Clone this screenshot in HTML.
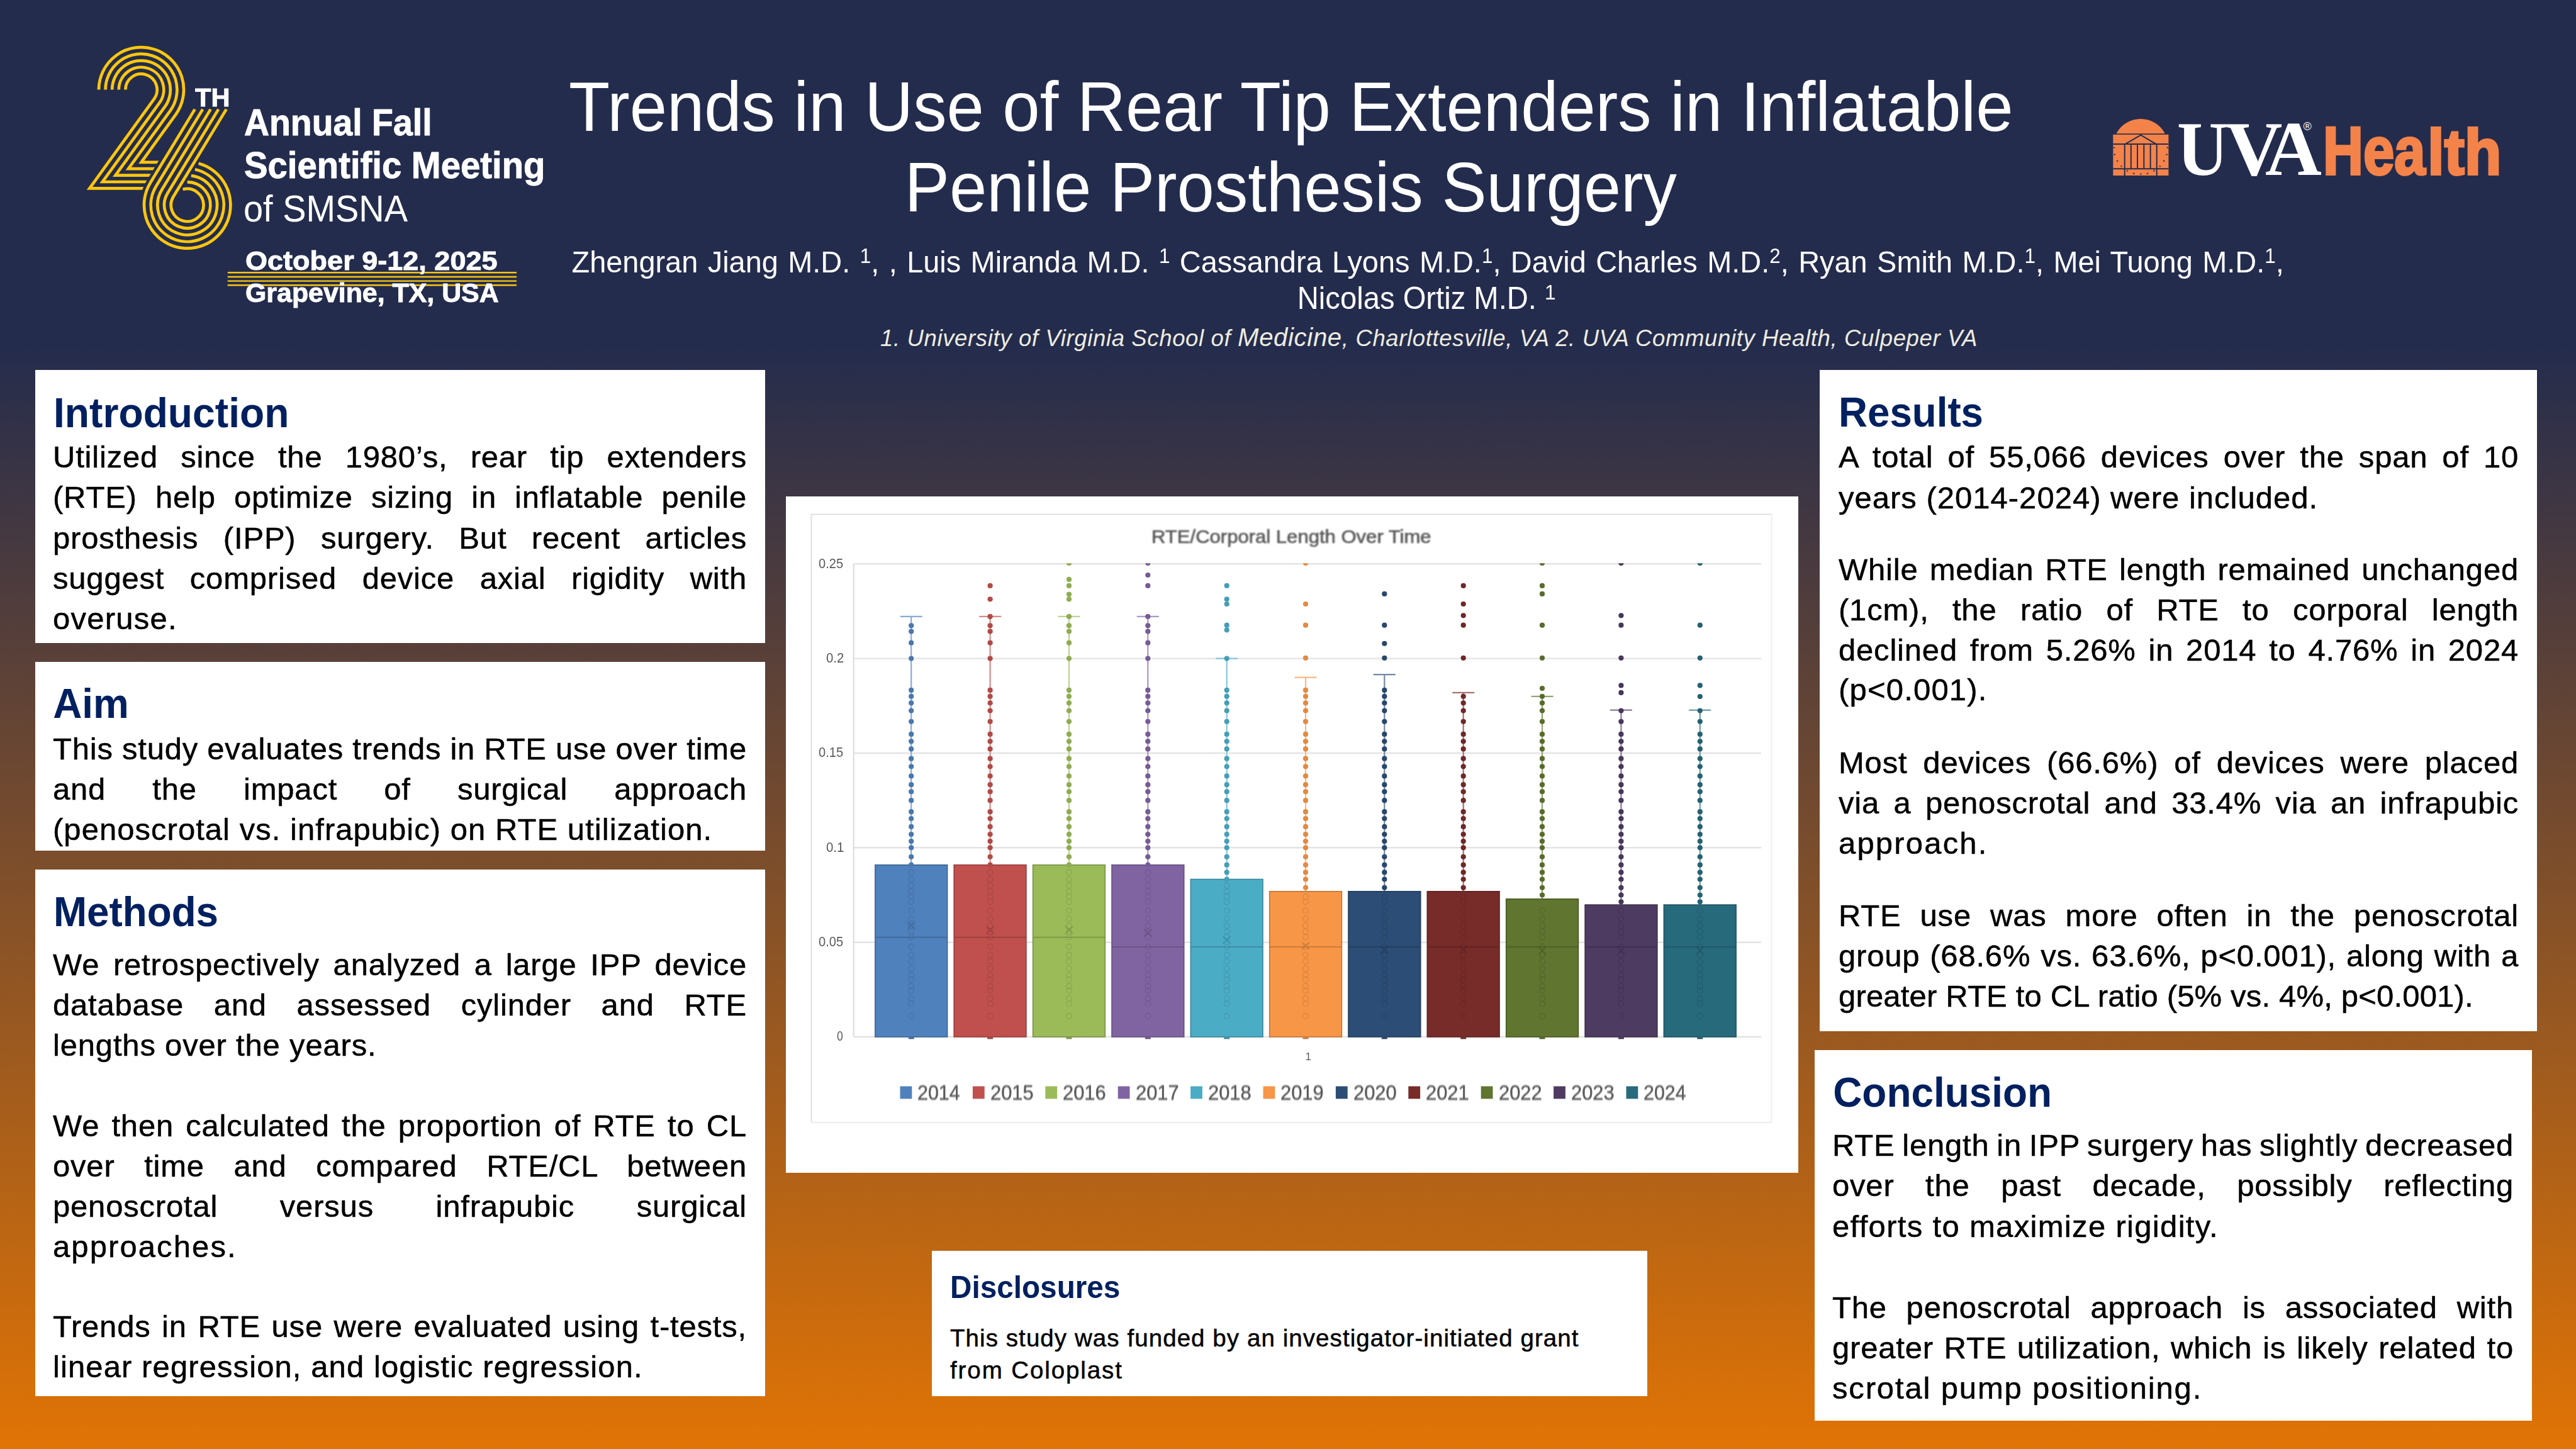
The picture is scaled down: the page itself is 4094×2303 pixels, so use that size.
<!DOCTYPE html>
<html lang="en">
<head>
<meta charset="utf-8">
<title>Trends in Use of Rear Tip Extenders in Inflatable Penile Prosthesis Surgery</title>
<style>
html,body{margin:0;padding:0;}
body{width:4094px;height:2303px;overflow:hidden;background:#242c4d;font-family:"Liberation Sans",sans-serif;}
#poster{position:relative;width:4094px;height:2303px;overflow:hidden;
  background:linear-gradient(to bottom,#242c4d 0px,#242c4d 550px,#e17405 2303px);}
.t{position:absolute;white-space:pre;line-height:1;margin:0;padding:0;}
.box{position:absolute;background:#fff;}
sup.s{font-size:67%;line-height:0;position:relative;top:-0.45em;vertical-align:baseline;}
svg{position:absolute;overflow:visible;}
</style>
</head>
<body>
<div id="poster">

<svg width="4094" height="600" viewBox="0 0 4094 600" style="left:0;top:0" fill="none" stroke="#fdc70c" stroke-width="4.7" stroke-linecap="butt" stroke-linejoin="miter" stroke-miterlimit="10">
<path d="M157.00 142.60A67.50 67.50 0 1 1 279.25 182.08L224.64 257.80L258.69 257.80"/>
<path d="M167.60 142.60A56.90 56.90 0 1 1 270.65 175.88L204.07 268.20L252.39 268.20"/>
<path d="M178.20 142.60A46.30 46.30 0 1 1 262.05 169.68L183.50 278.60L246.09 278.60"/>
<path d="M188.80 142.60A35.70 35.70 0 1 1 253.45 163.48L162.93 289.00L239.79 289.00"/>
<path d="M199.40 142.60A25.10 25.10 0 1 1 244.86 157.28L142.36 299.40L234.36 299.40"/>
<path d="M309.68 173.60L238.94 290.41A68.70 68.70 0 1 0 315.65 259.69" stroke="#242c4d" stroke-width="13.5"/>
<path d="M309.68 173.60L238.94 290.41A68.70 68.70 0 1 0 315.65 259.69"/>
<path d="M322.19 173.60L248.09 295.95A58.00 58.00 0 1 0 309.84 269.28"/>
<path d="M334.70 173.60L257.24 301.50A47.30 47.30 0 1 0 303.89 279.11"/>
<path d="M347.21 173.60L266.39 307.04A36.60 36.60 0 1 0 297.65 289.40"/>
<path d="M359.72 173.60L275.55 312.58A25.90 25.90 0 1 0 290.57 301.10"/>
<path d="M361.8 433.3H821" stroke-width="2.4"/>
<path d="M361.8 440.0H821" stroke-width="2.4"/>
<path d="M361.8 446.6H821" stroke-width="2.4"/>
<path d="M361.8 453.3H821" stroke-width="2.4"/>
</svg>

<svg width="4094" height="600" viewBox="0 0 4094 600" style="left:0;top:0">
<path d="M3363.4 212.3A43.7 43.7 0 0 1 3440.8 212.3Z" fill="#f4834a"/>
<rect x="3358.3" y="213.9" width="88.1" height="65.1" fill="#f4834a"/>
<g fill="none" stroke="#242c4d" stroke-width="2.0" stroke-linejoin="miter">
<path d="M3377.3 229.1L3402.3 214.7L3426.9 229.1"/>
<path d="M3358.3 229.1H3446.3M3358.3 268.3H3446.3"/>
<path d="M3376.7 229.1V279.0M3427.7 229.1V279.0"/>
<path d="M3386.8 230.2V267.5"/>
<path d="M3397.0 230.2V267.5"/>
<path d="M3407.3 230.2V267.5"/>
<path d="M3417.6 230.2V267.5"/>
</g>
<polygon points="3359.84,232.62 3360.31,233.88 3361.65,233.94 3360.60,234.77 3360.96,236.06 3359.84,235.32 3358.72,236.06 3359.08,234.77 3358.03,233.94 3359.37,233.88" fill="#242c4d"/>
<polygon points="3360.79,243.73 3361.26,244.99 3362.60,245.05 3361.55,245.88 3361.91,247.17 3360.79,246.43 3359.68,247.17 3360.03,245.88 3358.99,245.05 3360.32,244.99" fill="#242c4d"/>
<polygon points="3365.00,254.05 3365.47,255.31 3366.81,255.37 3365.76,256.20 3366.12,257.49 3365.00,256.75 3363.88,257.49 3364.24,256.20 3363.19,255.37 3364.53,255.31" fill="#242c4d"/>
<polygon points="3371.35,262.39 3371.82,263.64 3373.16,263.70 3372.11,264.53 3372.47,265.82 3371.35,265.08 3370.23,265.82 3370.59,264.53 3369.54,263.70 3370.88,263.64" fill="#242c4d"/>
<polygon points="3444.60,232.62 3445.07,233.88 3446.41,233.94 3445.36,234.77 3445.72,236.06 3444.60,235.32 3443.49,236.06 3443.84,234.77 3442.80,233.94 3444.13,233.88" fill="#242c4d"/>
<polygon points="3443.57,243.73 3444.04,244.99 3445.38,245.05 3444.33,245.88 3444.69,247.17 3443.57,246.43 3442.45,247.17 3442.81,245.88 3441.76,245.05 3443.10,244.99" fill="#242c4d"/>
<polygon points="3439.21,254.05 3439.68,255.31 3441.01,255.37 3439.97,256.20 3440.32,257.49 3439.21,256.75 3438.09,257.49 3438.45,256.20 3437.40,255.37 3438.74,255.31" fill="#242c4d"/>
<polygon points="3432.86,262.39 3433.33,263.64 3434.66,263.70 3433.62,264.53 3433.97,265.82 3432.86,265.08 3431.74,265.82 3432.10,264.53 3431.05,263.70 3432.39,263.64" fill="#242c4d"/>
<polygon points="3380.87,269.53 3381.34,270.78 3382.68,270.84 3381.63,271.68 3381.99,272.97 3380.87,272.23 3379.76,272.97 3380.11,271.68 3379.07,270.84 3380.40,270.78" fill="#242c4d"/>
<polygon points="3391.19,273.73 3391.66,274.99 3393.00,275.05 3391.95,275.88 3392.31,277.17 3391.19,276.43 3390.07,277.17 3390.43,275.88 3389.38,275.05 3390.72,274.99" fill="#242c4d"/>
<polygon points="3402.30,274.69 3402.77,275.94 3404.11,276.00 3403.06,276.83 3403.42,278.12 3402.30,277.39 3401.18,278.12 3401.54,276.83 3400.49,276.00 3401.83,275.94" fill="#242c4d"/>
<polygon points="3413.02,273.73 3413.48,274.99 3414.82,275.05 3413.77,275.88 3414.13,277.17 3413.02,276.43 3411.90,277.17 3412.26,275.88 3411.21,275.05 3412.55,274.99" fill="#242c4d"/>
<polygon points="3423.33,269.53 3423.80,270.78 3425.14,270.84 3424.09,271.68 3424.45,272.97 3423.33,272.23 3422.22,272.97 3422.57,271.68 3421.53,270.84 3422.86,270.78" fill="#242c4d"/>
</svg>


<div class="box" style="left:56px;top:588px;width:1160px;height:434px;"></div>
<div class="box" style="left:56px;top:1052px;width:1160px;height:300px;"></div>
<div class="box" style="left:56px;top:1382px;width:1160px;height:837px;"></div>
<div class="box" style="left:1249px;top:789px;width:1609px;height:1075px;"></div>
<div class="box" style="left:1481px;top:1988px;width:1137px;height:231px;"></div>
<div class="box" style="left:2892px;top:588px;width:1140px;height:1051px;"></div>
<div class="box" style="left:2884px;top:1669px;width:1140px;height:589px;"></div>

<svg width="4094" height="2303" viewBox="0 0 4094 2303" style="left:0;top:0;filter:blur(0.7px)">
<path d="M1289.5 1784V817.5H2815.6" fill="none" stroke="#dfdfdf" stroke-width="2"/>
<path d="M2815.6 817.5V1784" fill="none" stroke="#efefef" stroke-width="2"/>
<clipPath id="plotclip"><rect x="1300" y="895.3" width="1520" height="800"/></clipPath>
<path d="M1289.5 1784H2815.6" fill="none" stroke="#ececec" stroke-width="2"/>
<path d="M1356.7 1648.0H2799" stroke="#e3e3e3" stroke-width="2.4" fill="none"/>
<path d="M1356.7 1497.7H2799" stroke="#e3e3e3" stroke-width="2.4" fill="none"/>
<path d="M1356.7 1347.3H2799" stroke="#e3e3e3" stroke-width="2.4" fill="none"/>
<path d="M1356.7 1197.0H2799" stroke="#e3e3e3" stroke-width="2.4" fill="none"/>
<path d="M1356.7 1046.6H2799" stroke="#e3e3e3" stroke-width="2.4" fill="none"/>
<path d="M1356.7 896.3H2799" stroke="#e3e3e3" stroke-width="2.4" fill="none"/>
<path d="M1356.7 896.3V1648.0" stroke="#dadada" stroke-width="2" fill="none"/>
<path d="M1448.2 1374.7V979.9M1430.8 979.9h35" stroke="#89abd3" stroke-width="2.2" fill="none"/>
<rect x="1390.9" y="1374.7" width="114.7" height="273.3" fill="#4f81bd" stroke="#3e6593" stroke-width="1.6"/>
<path d="M1390.9 1489.8h114.7" stroke="#3e6593" stroke-width="2" fill="none" opacity="0.8"/>
<path d="M1443.8 1650.2h9" stroke="#3e6593" stroke-width="2.4" fill="none"/>
<g fill="none" stroke="#3e6593" stroke-width="1.2" opacity="0.55"><circle cx="1448.2" cy="1614.9" r="4.3"/><circle cx="1448.2" cy="1595.4" r="4.3"/><circle cx="1448.2" cy="1587.0" r="4.3"/><circle cx="1448.2" cy="1574.6" r="4.3"/><circle cx="1448.2" cy="1567.4" r="4.3"/><circle cx="1448.2" cy="1556.9" r="4.3"/><circle cx="1448.2" cy="1549.7" r="4.3"/><circle cx="1448.2" cy="1539.5" r="4.3"/><circle cx="1448.2" cy="1528.0" r="4.3"/><circle cx="1448.2" cy="1517.5" r="4.3"/><circle cx="1448.2" cy="1504.6" r="4.3"/><circle cx="1448.2" cy="1489.5" r="4.3"/><circle cx="1448.2" cy="1480.8" r="4.3"/><circle cx="1448.2" cy="1471.2" r="4.3"/><circle cx="1448.2" cy="1460.1" r="4.3"/><circle cx="1448.2" cy="1447.4" r="4.3"/><circle cx="1448.2" cy="1433.3" r="4.3"/><circle cx="1448.2" cy="1425.2" r="4.3"/><circle cx="1448.2" cy="1416.8" r="4.3"/><circle cx="1448.2" cy="1407.5" r="4.3"/><circle cx="1448.2" cy="1397.5" r="4.3"/><circle cx="1448.2" cy="1386.4" r="4.3"/></g>
<path d="M1442.2 1464.9l12 12M1454.2 1464.9l-12 12" stroke="#3e6593" stroke-width="1.6" fill="none" opacity="0.8"/>
<g fill="#4977ae" clip-path="url(#plotclip)"><circle cx="1448.2" cy="1374.7" r="4.1"/><circle cx="1448.2" cy="1361.8" r="4.1"/><circle cx="1448.2" cy="1347.3" r="4.1"/><circle cx="1448.2" cy="1337.1" r="4.1"/><circle cx="1448.2" cy="1326.0" r="4.1"/><circle cx="1448.2" cy="1313.9" r="4.1"/><circle cx="1448.2" cy="1301.0" r="4.1"/><circle cx="1448.2" cy="1290.2" r="4.1"/><circle cx="1448.2" cy="1272.2" r="4.1"/><circle cx="1448.2" cy="1258.3" r="4.1"/><circle cx="1448.2" cy="1247.2" r="4.1"/><circle cx="1448.2" cy="1233.4" r="4.1"/><circle cx="1448.2" cy="1218.3" r="4.1"/><circle cx="1448.2" cy="1205.7" r="4.1"/><circle cx="1448.2" cy="1190.4" r="4.1"/><circle cx="1448.2" cy="1178.3" r="4.1"/><circle cx="1448.2" cy="1166.9" r="4.1"/><circle cx="1448.2" cy="1146.8" r="4.1"/><circle cx="1448.2" cy="1129.6" r="4.1"/><circle cx="1448.2" cy="1117.3" r="4.1"/><circle cx="1448.2" cy="1106.8" r="4.1"/><circle cx="1448.2" cy="1096.9" r="4.1"/><circle cx="1448.2" cy="1046.6" r="4.1"/><circle cx="1448.2" cy="1021.7" r="4.1"/><circle cx="1448.2" cy="1003.6" r="4.1"/><circle cx="1448.2" cy="994.3" r="4.1"/></g>
<path d="M1573.6 1374.7V979.9M1556.1 979.9h35" stroke="#d58a88" stroke-width="2.2" fill="none"/>
<rect x="1516.2" y="1374.7" width="114.7" height="273.3" fill="#c0504d" stroke="#963e3c" stroke-width="1.6"/>
<path d="M1516.2 1489.8h114.7" stroke="#963e3c" stroke-width="2" fill="none" opacity="0.8"/>
<path d="M1569.1 1650.2h9" stroke="#963e3c" stroke-width="2.4" fill="none"/>
<g fill="none" stroke="#963e3c" stroke-width="1.2" opacity="0.55"><circle cx="1573.6" cy="1614.9" r="4.3"/><circle cx="1573.6" cy="1595.4" r="4.3"/><circle cx="1573.6" cy="1587.0" r="4.3"/><circle cx="1573.6" cy="1574.6" r="4.3"/><circle cx="1573.6" cy="1567.4" r="4.3"/><circle cx="1573.6" cy="1556.9" r="4.3"/><circle cx="1573.6" cy="1549.7" r="4.3"/><circle cx="1573.6" cy="1539.5" r="4.3"/><circle cx="1573.6" cy="1528.0" r="4.3"/><circle cx="1573.6" cy="1517.5" r="4.3"/><circle cx="1573.6" cy="1504.6" r="4.3"/><circle cx="1573.6" cy="1489.5" r="4.3"/><circle cx="1573.6" cy="1480.8" r="4.3"/><circle cx="1573.6" cy="1471.2" r="4.3"/><circle cx="1573.6" cy="1460.1" r="4.3"/><circle cx="1573.6" cy="1447.4" r="4.3"/><circle cx="1573.6" cy="1433.3" r="4.3"/><circle cx="1573.6" cy="1425.2" r="4.3"/><circle cx="1573.6" cy="1416.8" r="4.3"/><circle cx="1573.6" cy="1407.5" r="4.3"/><circle cx="1573.6" cy="1397.5" r="4.3"/><circle cx="1573.6" cy="1386.4" r="4.3"/></g>
<path d="M1567.6 1472.4l12 12M1579.6 1472.4l-12 12" stroke="#963e3c" stroke-width="1.6" fill="none" opacity="0.8"/>
<g fill="#b14a47" clip-path="url(#plotclip)"><circle cx="1573.6" cy="1374.7" r="4.1"/><circle cx="1573.6" cy="1361.8" r="4.1"/><circle cx="1573.6" cy="1347.3" r="4.1"/><circle cx="1573.6" cy="1337.1" r="4.1"/><circle cx="1573.6" cy="1326.0" r="4.1"/><circle cx="1573.6" cy="1313.9" r="4.1"/><circle cx="1573.6" cy="1301.0" r="4.1"/><circle cx="1573.6" cy="1290.2" r="4.1"/><circle cx="1573.6" cy="1272.2" r="4.1"/><circle cx="1573.6" cy="1258.3" r="4.1"/><circle cx="1573.6" cy="1247.2" r="4.1"/><circle cx="1573.6" cy="1233.4" r="4.1"/><circle cx="1573.6" cy="1218.3" r="4.1"/><circle cx="1573.6" cy="1205.7" r="4.1"/><circle cx="1573.6" cy="1190.4" r="4.1"/><circle cx="1573.6" cy="1178.3" r="4.1"/><circle cx="1573.6" cy="1166.9" r="4.1"/><circle cx="1573.6" cy="1146.8" r="4.1"/><circle cx="1573.6" cy="1129.6" r="4.1"/><circle cx="1573.6" cy="1117.3" r="4.1"/><circle cx="1573.6" cy="1106.8" r="4.1"/><circle cx="1573.6" cy="1096.9" r="4.1"/><circle cx="1573.6" cy="1046.6" r="4.1"/><circle cx="1573.6" cy="1021.7" r="4.1"/><circle cx="1573.6" cy="1003.6" r="4.1"/><circle cx="1573.6" cy="994.3" r="4.1"/><circle cx="1573.6" cy="979.9" r="4.1"/><circle cx="1573.6" cy="930.9" r="4.1"/><circle cx="1573.6" cy="952.3" r="4.1"/></g>
<path d="M1699.0 1374.7V979.9M1681.5 979.9h35" stroke="#bcd190" stroke-width="2.2" fill="none"/>
<rect x="1641.6" y="1374.7" width="114.7" height="273.3" fill="#9bbb59" stroke="#799245" stroke-width="1.6"/>
<path d="M1641.6 1489.8h114.7" stroke="#799245" stroke-width="2" fill="none" opacity="0.8"/>
<path d="M1694.5 1650.2h9" stroke="#799245" stroke-width="2.4" fill="none"/>
<g fill="none" stroke="#799245" stroke-width="1.2" opacity="0.55"><circle cx="1699.0" cy="1614.9" r="4.3"/><circle cx="1699.0" cy="1595.4" r="4.3"/><circle cx="1699.0" cy="1587.0" r="4.3"/><circle cx="1699.0" cy="1574.6" r="4.3"/><circle cx="1699.0" cy="1567.4" r="4.3"/><circle cx="1699.0" cy="1556.9" r="4.3"/><circle cx="1699.0" cy="1549.7" r="4.3"/><circle cx="1699.0" cy="1539.5" r="4.3"/><circle cx="1699.0" cy="1528.0" r="4.3"/><circle cx="1699.0" cy="1517.5" r="4.3"/><circle cx="1699.0" cy="1504.6" r="4.3"/><circle cx="1699.0" cy="1489.5" r="4.3"/><circle cx="1699.0" cy="1480.8" r="4.3"/><circle cx="1699.0" cy="1471.2" r="4.3"/><circle cx="1699.0" cy="1460.1" r="4.3"/><circle cx="1699.0" cy="1447.4" r="4.3"/><circle cx="1699.0" cy="1433.3" r="4.3"/><circle cx="1699.0" cy="1425.2" r="4.3"/><circle cx="1699.0" cy="1416.8" r="4.3"/><circle cx="1699.0" cy="1407.5" r="4.3"/><circle cx="1699.0" cy="1397.5" r="4.3"/><circle cx="1699.0" cy="1386.4" r="4.3"/></g>
<path d="M1693.0 1472.4l12 12M1705.0 1472.4l-12 12" stroke="#799245" stroke-width="1.6" fill="none" opacity="0.8"/>
<g fill="#8fac52" clip-path="url(#plotclip)"><circle cx="1699.0" cy="1374.7" r="4.1"/><circle cx="1699.0" cy="1361.8" r="4.1"/><circle cx="1699.0" cy="1347.3" r="4.1"/><circle cx="1699.0" cy="1337.1" r="4.1"/><circle cx="1699.0" cy="1326.0" r="4.1"/><circle cx="1699.0" cy="1313.9" r="4.1"/><circle cx="1699.0" cy="1301.0" r="4.1"/><circle cx="1699.0" cy="1290.2" r="4.1"/><circle cx="1699.0" cy="1272.2" r="4.1"/><circle cx="1699.0" cy="1258.3" r="4.1"/><circle cx="1699.0" cy="1247.2" r="4.1"/><circle cx="1699.0" cy="1233.4" r="4.1"/><circle cx="1699.0" cy="1218.3" r="4.1"/><circle cx="1699.0" cy="1205.7" r="4.1"/><circle cx="1699.0" cy="1190.4" r="4.1"/><circle cx="1699.0" cy="1178.3" r="4.1"/><circle cx="1699.0" cy="1166.9" r="4.1"/><circle cx="1699.0" cy="1146.8" r="4.1"/><circle cx="1699.0" cy="1129.6" r="4.1"/><circle cx="1699.0" cy="1117.3" r="4.1"/><circle cx="1699.0" cy="1106.8" r="4.1"/><circle cx="1699.0" cy="1096.9" r="4.1"/><circle cx="1699.0" cy="1046.6" r="4.1"/><circle cx="1699.0" cy="1021.7" r="4.1"/><circle cx="1699.0" cy="1003.6" r="4.1"/><circle cx="1699.0" cy="994.3" r="4.1"/><circle cx="1699.0" cy="979.9" r="4.1"/><circle cx="1699.0" cy="894.9" r="4.1"/><circle cx="1699.0" cy="920.9" r="4.1"/><circle cx="1699.0" cy="930.9" r="4.1"/><circle cx="1699.0" cy="944.6" r="4.1"/><circle cx="1699.0" cy="952.3" r="4.1"/></g>
<path d="M1824.3 1374.7V979.9M1806.8 979.9h35" stroke="#aa97c1" stroke-width="2.2" fill="none"/>
<rect x="1767.0" y="1374.7" width="114.7" height="273.3" fill="#8064a2" stroke="#644e7e" stroke-width="1.6"/>
<path d="M1767.0 1504.9h114.7" stroke="#644e7e" stroke-width="2" fill="none" opacity="0.8"/>
<path d="M1819.8 1650.2h9" stroke="#644e7e" stroke-width="2.4" fill="none"/>
<g fill="none" stroke="#644e7e" stroke-width="1.2" opacity="0.55"><circle cx="1824.3" cy="1614.9" r="4.3"/><circle cx="1824.3" cy="1595.4" r="4.3"/><circle cx="1824.3" cy="1587.0" r="4.3"/><circle cx="1824.3" cy="1574.6" r="4.3"/><circle cx="1824.3" cy="1567.4" r="4.3"/><circle cx="1824.3" cy="1556.9" r="4.3"/><circle cx="1824.3" cy="1549.7" r="4.3"/><circle cx="1824.3" cy="1539.5" r="4.3"/><circle cx="1824.3" cy="1528.0" r="4.3"/><circle cx="1824.3" cy="1517.5" r="4.3"/><circle cx="1824.3" cy="1504.6" r="4.3"/><circle cx="1824.3" cy="1489.5" r="4.3"/><circle cx="1824.3" cy="1480.8" r="4.3"/><circle cx="1824.3" cy="1471.2" r="4.3"/><circle cx="1824.3" cy="1460.1" r="4.3"/><circle cx="1824.3" cy="1447.4" r="4.3"/><circle cx="1824.3" cy="1433.3" r="4.3"/><circle cx="1824.3" cy="1425.2" r="4.3"/><circle cx="1824.3" cy="1416.8" r="4.3"/><circle cx="1824.3" cy="1407.5" r="4.3"/><circle cx="1824.3" cy="1397.5" r="4.3"/><circle cx="1824.3" cy="1386.4" r="4.3"/></g>
<path d="M1818.3 1476.6l12 12M1830.3 1476.6l-12 12" stroke="#644e7e" stroke-width="1.6" fill="none" opacity="0.8"/>
<g fill="#765c95" clip-path="url(#plotclip)"><circle cx="1824.3" cy="1374.7" r="4.1"/><circle cx="1824.3" cy="1361.8" r="4.1"/><circle cx="1824.3" cy="1347.3" r="4.1"/><circle cx="1824.3" cy="1337.1" r="4.1"/><circle cx="1824.3" cy="1326.0" r="4.1"/><circle cx="1824.3" cy="1313.9" r="4.1"/><circle cx="1824.3" cy="1301.0" r="4.1"/><circle cx="1824.3" cy="1290.2" r="4.1"/><circle cx="1824.3" cy="1272.2" r="4.1"/><circle cx="1824.3" cy="1258.3" r="4.1"/><circle cx="1824.3" cy="1247.2" r="4.1"/><circle cx="1824.3" cy="1233.4" r="4.1"/><circle cx="1824.3" cy="1218.3" r="4.1"/><circle cx="1824.3" cy="1205.7" r="4.1"/><circle cx="1824.3" cy="1190.4" r="4.1"/><circle cx="1824.3" cy="1178.3" r="4.1"/><circle cx="1824.3" cy="1166.9" r="4.1"/><circle cx="1824.3" cy="1146.8" r="4.1"/><circle cx="1824.3" cy="1129.6" r="4.1"/><circle cx="1824.3" cy="1117.3" r="4.1"/><circle cx="1824.3" cy="1106.8" r="4.1"/><circle cx="1824.3" cy="1096.9" r="4.1"/><circle cx="1824.3" cy="1046.6" r="4.1"/><circle cx="1824.3" cy="1021.7" r="4.1"/><circle cx="1824.3" cy="1003.6" r="4.1"/><circle cx="1824.3" cy="994.3" r="4.1"/><circle cx="1824.3" cy="979.9" r="4.1"/><circle cx="1824.3" cy="894.9" r="4.1"/><circle cx="1824.3" cy="914.0" r="4.1"/><circle cx="1824.3" cy="930.9" r="4.1"/></g>
<path d="M1949.7 1397.5V1046.6M1932.2 1046.6h35" stroke="#86c7d9" stroke-width="2.2" fill="none"/>
<rect x="1892.3" y="1397.5" width="114.7" height="250.5" fill="#4bacc6" stroke="#3a869a" stroke-width="1.6"/>
<path d="M1892.3 1504.9h114.7" stroke="#3a869a" stroke-width="2" fill="none" opacity="0.8"/>
<path d="M1945.2 1650.2h9" stroke="#3a869a" stroke-width="2.4" fill="none"/>
<g fill="none" stroke="#3a869a" stroke-width="1.2" opacity="0.55"><circle cx="1949.7" cy="1614.9" r="4.3"/><circle cx="1949.7" cy="1595.4" r="4.3"/><circle cx="1949.7" cy="1587.0" r="4.3"/><circle cx="1949.7" cy="1574.6" r="4.3"/><circle cx="1949.7" cy="1567.4" r="4.3"/><circle cx="1949.7" cy="1556.9" r="4.3"/><circle cx="1949.7" cy="1549.7" r="4.3"/><circle cx="1949.7" cy="1539.5" r="4.3"/><circle cx="1949.7" cy="1528.0" r="4.3"/><circle cx="1949.7" cy="1517.5" r="4.3"/><circle cx="1949.7" cy="1504.6" r="4.3"/><circle cx="1949.7" cy="1489.5" r="4.3"/><circle cx="1949.7" cy="1480.8" r="4.3"/><circle cx="1949.7" cy="1471.2" r="4.3"/><circle cx="1949.7" cy="1460.1" r="4.3"/><circle cx="1949.7" cy="1447.4" r="4.3"/><circle cx="1949.7" cy="1433.3" r="4.3"/><circle cx="1949.7" cy="1425.2" r="4.3"/><circle cx="1949.7" cy="1416.8" r="4.3"/><circle cx="1949.7" cy="1407.5" r="4.3"/></g>
<path d="M1943.7 1488.1l12 12M1955.7 1488.1l-12 12" stroke="#3a869a" stroke-width="1.6" fill="none" opacity="0.8"/>
<g fill="#459eb6" clip-path="url(#plotclip)"><circle cx="1949.7" cy="1397.5" r="4.1"/><circle cx="1949.7" cy="1386.4" r="4.1"/><circle cx="1949.7" cy="1374.7" r="4.1"/><circle cx="1949.7" cy="1361.8" r="4.1"/><circle cx="1949.7" cy="1347.3" r="4.1"/><circle cx="1949.7" cy="1337.1" r="4.1"/><circle cx="1949.7" cy="1326.0" r="4.1"/><circle cx="1949.7" cy="1313.9" r="4.1"/><circle cx="1949.7" cy="1301.0" r="4.1"/><circle cx="1949.7" cy="1290.2" r="4.1"/><circle cx="1949.7" cy="1272.2" r="4.1"/><circle cx="1949.7" cy="1258.3" r="4.1"/><circle cx="1949.7" cy="1247.2" r="4.1"/><circle cx="1949.7" cy="1233.4" r="4.1"/><circle cx="1949.7" cy="1218.3" r="4.1"/><circle cx="1949.7" cy="1205.7" r="4.1"/><circle cx="1949.7" cy="1190.4" r="4.1"/><circle cx="1949.7" cy="1178.3" r="4.1"/><circle cx="1949.7" cy="1166.9" r="4.1"/><circle cx="1949.7" cy="1146.8" r="4.1"/><circle cx="1949.7" cy="1129.6" r="4.1"/><circle cx="1949.7" cy="1117.3" r="4.1"/><circle cx="1949.7" cy="1106.8" r="4.1"/><circle cx="1949.7" cy="1096.9" r="4.1"/><circle cx="1949.7" cy="1046.6" r="4.1"/><circle cx="1949.7" cy="930.9" r="4.1"/><circle cx="1949.7" cy="952.3" r="4.1"/><circle cx="1949.7" cy="960.0" r="4.1"/><circle cx="1949.7" cy="993.7" r="4.1"/><circle cx="1949.7" cy="1001.3" r="4.1"/></g>
<path d="M2075.0 1416.8V1076.7M2057.5 1076.7h35" stroke="#fab983" stroke-width="2.2" fill="none"/>
<rect x="2017.7" y="1416.8" width="114.7" height="231.2" fill="#f79646" stroke="#c17537" stroke-width="1.6"/>
<path d="M2017.7 1504.9h114.7" stroke="#c17537" stroke-width="2" fill="none" opacity="0.8"/>
<path d="M2070.5 1650.2h9" stroke="#c17537" stroke-width="2.4" fill="none"/>
<g fill="none" stroke="#c17537" stroke-width="1.2" opacity="0.55"><circle cx="2075.0" cy="1614.9" r="4.3"/><circle cx="2075.0" cy="1595.4" r="4.3"/><circle cx="2075.0" cy="1587.0" r="4.3"/><circle cx="2075.0" cy="1574.6" r="4.3"/><circle cx="2075.0" cy="1567.4" r="4.3"/><circle cx="2075.0" cy="1556.9" r="4.3"/><circle cx="2075.0" cy="1549.7" r="4.3"/><circle cx="2075.0" cy="1539.5" r="4.3"/><circle cx="2075.0" cy="1528.0" r="4.3"/><circle cx="2075.0" cy="1517.5" r="4.3"/><circle cx="2075.0" cy="1504.6" r="4.3"/><circle cx="2075.0" cy="1489.5" r="4.3"/><circle cx="2075.0" cy="1480.8" r="4.3"/><circle cx="2075.0" cy="1471.2" r="4.3"/><circle cx="2075.0" cy="1460.1" r="4.3"/><circle cx="2075.0" cy="1447.4" r="4.3"/><circle cx="2075.0" cy="1433.3" r="4.3"/><circle cx="2075.0" cy="1425.2" r="4.3"/></g>
<path d="M2069.0 1497.4l12 12M2081.0 1497.4l-12 12" stroke="#c17537" stroke-width="1.6" fill="none" opacity="0.8"/>
<g fill="#e38a40" clip-path="url(#plotclip)"><circle cx="2075.0" cy="1410.8" r="4.1"/><circle cx="2075.0" cy="1397.5" r="4.1"/><circle cx="2075.0" cy="1386.4" r="4.1"/><circle cx="2075.0" cy="1374.7" r="4.1"/><circle cx="2075.0" cy="1361.8" r="4.1"/><circle cx="2075.0" cy="1347.3" r="4.1"/><circle cx="2075.0" cy="1337.1" r="4.1"/><circle cx="2075.0" cy="1326.0" r="4.1"/><circle cx="2075.0" cy="1313.9" r="4.1"/><circle cx="2075.0" cy="1301.0" r="4.1"/><circle cx="2075.0" cy="1290.2" r="4.1"/><circle cx="2075.0" cy="1272.2" r="4.1"/><circle cx="2075.0" cy="1258.3" r="4.1"/><circle cx="2075.0" cy="1247.2" r="4.1"/><circle cx="2075.0" cy="1233.4" r="4.1"/><circle cx="2075.0" cy="1218.3" r="4.1"/><circle cx="2075.0" cy="1205.7" r="4.1"/><circle cx="2075.0" cy="1190.4" r="4.1"/><circle cx="2075.0" cy="1178.3" r="4.1"/><circle cx="2075.0" cy="1166.9" r="4.1"/><circle cx="2075.0" cy="1146.8" r="4.1"/><circle cx="2075.0" cy="1129.6" r="4.1"/><circle cx="2075.0" cy="1117.3" r="4.1"/><circle cx="2075.0" cy="1106.8" r="4.1"/><circle cx="2075.0" cy="1096.9" r="4.1"/><circle cx="2075.0" cy="894.9" r="4.1"/><circle cx="2075.0" cy="960.0" r="4.1"/><circle cx="2075.0" cy="993.7" r="4.1"/><circle cx="2075.0" cy="1045.8" r="4.1"/></g>
<path d="M2200.3 1416.8V1072.2M2182.8 1072.2h35" stroke="#7288a3" stroke-width="2.2" fill="none"/>
<rect x="2143.0" y="1416.8" width="114.7" height="231.2" fill="#2c4d75" stroke="#223c5b" stroke-width="1.6"/>
<path d="M2143.0 1504.9h114.7" stroke="#223c5b" stroke-width="2" fill="none" opacity="0.8"/>
<path d="M2195.8 1650.2h9" stroke="#223c5b" stroke-width="2.4" fill="none"/>
<g fill="none" stroke="#223c5b" stroke-width="1.2" opacity="0.55"><circle cx="2200.3" cy="1614.9" r="4.3"/><circle cx="2200.3" cy="1595.4" r="4.3"/><circle cx="2200.3" cy="1587.0" r="4.3"/><circle cx="2200.3" cy="1574.6" r="4.3"/><circle cx="2200.3" cy="1567.4" r="4.3"/><circle cx="2200.3" cy="1556.9" r="4.3"/><circle cx="2200.3" cy="1549.7" r="4.3"/><circle cx="2200.3" cy="1539.5" r="4.3"/><circle cx="2200.3" cy="1528.0" r="4.3"/><circle cx="2200.3" cy="1517.5" r="4.3"/><circle cx="2200.3" cy="1504.6" r="4.3"/><circle cx="2200.3" cy="1489.5" r="4.3"/><circle cx="2200.3" cy="1480.8" r="4.3"/><circle cx="2200.3" cy="1471.2" r="4.3"/><circle cx="2200.3" cy="1460.1" r="4.3"/><circle cx="2200.3" cy="1447.4" r="4.3"/><circle cx="2200.3" cy="1433.3" r="4.3"/><circle cx="2200.3" cy="1425.2" r="4.3"/></g>
<path d="M2194.3 1503.4l12 12M2206.3 1503.4l-12 12" stroke="#223c5b" stroke-width="1.6" fill="none" opacity="0.8"/>
<g fill="#28476c" clip-path="url(#plotclip)"><circle cx="2200.3" cy="1410.8" r="4.1"/><circle cx="2200.3" cy="1397.5" r="4.1"/><circle cx="2200.3" cy="1386.4" r="4.1"/><circle cx="2200.3" cy="1374.7" r="4.1"/><circle cx="2200.3" cy="1361.8" r="4.1"/><circle cx="2200.3" cy="1347.3" r="4.1"/><circle cx="2200.3" cy="1337.1" r="4.1"/><circle cx="2200.3" cy="1326.0" r="4.1"/><circle cx="2200.3" cy="1313.9" r="4.1"/><circle cx="2200.3" cy="1301.0" r="4.1"/><circle cx="2200.3" cy="1290.2" r="4.1"/><circle cx="2200.3" cy="1272.2" r="4.1"/><circle cx="2200.3" cy="1258.3" r="4.1"/><circle cx="2200.3" cy="1247.2" r="4.1"/><circle cx="2200.3" cy="1233.4" r="4.1"/><circle cx="2200.3" cy="1218.3" r="4.1"/><circle cx="2200.3" cy="1205.7" r="4.1"/><circle cx="2200.3" cy="1190.4" r="4.1"/><circle cx="2200.3" cy="1178.3" r="4.1"/><circle cx="2200.3" cy="1166.9" r="4.1"/><circle cx="2200.3" cy="1146.8" r="4.1"/><circle cx="2200.3" cy="1129.6" r="4.1"/><circle cx="2200.3" cy="1117.3" r="4.1"/><circle cx="2200.3" cy="1106.8" r="4.1"/><circle cx="2200.3" cy="1096.9" r="4.1"/><circle cx="2200.3" cy="943.9" r="4.1"/><circle cx="2200.3" cy="993.7" r="4.1"/><circle cx="2200.3" cy="1022.8" r="4.1"/><circle cx="2200.3" cy="1045.8" r="4.1"/></g>
<path d="M2325.7 1416.8V1100.8M2308.2 1100.8h35" stroke="#a47270" stroke-width="2.2" fill="none"/>
<rect x="2268.3" y="1416.8" width="114.7" height="231.2" fill="#772c2a" stroke="#5d2221" stroke-width="1.6"/>
<path d="M2268.3 1504.9h114.7" stroke="#5d2221" stroke-width="2" fill="none" opacity="0.8"/>
<path d="M2321.2 1650.2h9" stroke="#5d2221" stroke-width="2.4" fill="none"/>
<g fill="none" stroke="#5d2221" stroke-width="1.2" opacity="0.55"><circle cx="2325.7" cy="1614.9" r="4.3"/><circle cx="2325.7" cy="1595.4" r="4.3"/><circle cx="2325.7" cy="1587.0" r="4.3"/><circle cx="2325.7" cy="1574.6" r="4.3"/><circle cx="2325.7" cy="1567.4" r="4.3"/><circle cx="2325.7" cy="1556.9" r="4.3"/><circle cx="2325.7" cy="1549.7" r="4.3"/><circle cx="2325.7" cy="1539.5" r="4.3"/><circle cx="2325.7" cy="1528.0" r="4.3"/><circle cx="2325.7" cy="1517.5" r="4.3"/><circle cx="2325.7" cy="1504.6" r="4.3"/><circle cx="2325.7" cy="1489.5" r="4.3"/><circle cx="2325.7" cy="1480.8" r="4.3"/><circle cx="2325.7" cy="1471.2" r="4.3"/><circle cx="2325.7" cy="1460.1" r="4.3"/><circle cx="2325.7" cy="1447.4" r="4.3"/><circle cx="2325.7" cy="1433.3" r="4.3"/><circle cx="2325.7" cy="1425.2" r="4.3"/></g>
<path d="M2319.7 1502.8l12 12M2331.7 1502.8l-12 12" stroke="#5d2221" stroke-width="1.6" fill="none" opacity="0.8"/>
<g fill="#6d2827" clip-path="url(#plotclip)"><circle cx="2325.7" cy="1410.8" r="4.1"/><circle cx="2325.7" cy="1397.5" r="4.1"/><circle cx="2325.7" cy="1386.4" r="4.1"/><circle cx="2325.7" cy="1374.7" r="4.1"/><circle cx="2325.7" cy="1361.8" r="4.1"/><circle cx="2325.7" cy="1347.3" r="4.1"/><circle cx="2325.7" cy="1337.1" r="4.1"/><circle cx="2325.7" cy="1326.0" r="4.1"/><circle cx="2325.7" cy="1313.9" r="4.1"/><circle cx="2325.7" cy="1301.0" r="4.1"/><circle cx="2325.7" cy="1290.2" r="4.1"/><circle cx="2325.7" cy="1272.2" r="4.1"/><circle cx="2325.7" cy="1258.3" r="4.1"/><circle cx="2325.7" cy="1247.2" r="4.1"/><circle cx="2325.7" cy="1233.4" r="4.1"/><circle cx="2325.7" cy="1218.3" r="4.1"/><circle cx="2325.7" cy="1205.7" r="4.1"/><circle cx="2325.7" cy="1190.4" r="4.1"/><circle cx="2325.7" cy="1178.3" r="4.1"/><circle cx="2325.7" cy="1166.9" r="4.1"/><circle cx="2325.7" cy="1146.8" r="4.1"/><circle cx="2325.7" cy="1129.6" r="4.1"/><circle cx="2325.7" cy="1117.3" r="4.1"/><circle cx="2325.7" cy="1106.8" r="4.1"/><circle cx="2325.7" cy="930.9" r="4.1"/><circle cx="2325.7" cy="960.0" r="4.1"/><circle cx="2325.7" cy="978.3" r="4.1"/><circle cx="2325.7" cy="993.7" r="4.1"/><circle cx="2325.7" cy="1045.8" r="4.1"/></g>
<path d="M2451.0 1428.8V1106.8M2433.5 1106.8h35" stroke="#94a374" stroke-width="2.2" fill="none"/>
<rect x="2393.7" y="1428.8" width="114.7" height="219.2" fill="#5f7530" stroke="#4a5b25" stroke-width="1.6"/>
<path d="M2393.7 1504.9h114.7" stroke="#4a5b25" stroke-width="2" fill="none" opacity="0.8"/>
<path d="M2446.5 1650.2h9" stroke="#4a5b25" stroke-width="2.4" fill="none"/>
<g fill="none" stroke="#4a5b25" stroke-width="1.2" opacity="0.55"><circle cx="2451.0" cy="1614.9" r="4.3"/><circle cx="2451.0" cy="1595.4" r="4.3"/><circle cx="2451.0" cy="1587.0" r="4.3"/><circle cx="2451.0" cy="1574.6" r="4.3"/><circle cx="2451.0" cy="1567.4" r="4.3"/><circle cx="2451.0" cy="1556.9" r="4.3"/><circle cx="2451.0" cy="1549.7" r="4.3"/><circle cx="2451.0" cy="1539.5" r="4.3"/><circle cx="2451.0" cy="1528.0" r="4.3"/><circle cx="2451.0" cy="1517.5" r="4.3"/><circle cx="2451.0" cy="1504.6" r="4.3"/><circle cx="2451.0" cy="1489.5" r="4.3"/><circle cx="2451.0" cy="1480.8" r="4.3"/><circle cx="2451.0" cy="1471.2" r="4.3"/><circle cx="2451.0" cy="1460.1" r="4.3"/><circle cx="2451.0" cy="1447.4" r="4.3"/></g>
<path d="M2445.0 1504.9l12 12M2457.0 1504.9l-12 12" stroke="#4a5b25" stroke-width="1.6" fill="none" opacity="0.8"/>
<g fill="#576c2c" clip-path="url(#plotclip)"><circle cx="2451.0" cy="1422.5" r="4.1"/><circle cx="2451.0" cy="1410.8" r="4.1"/><circle cx="2451.0" cy="1397.5" r="4.1"/><circle cx="2451.0" cy="1386.4" r="4.1"/><circle cx="2451.0" cy="1374.7" r="4.1"/><circle cx="2451.0" cy="1361.8" r="4.1"/><circle cx="2451.0" cy="1347.3" r="4.1"/><circle cx="2451.0" cy="1337.1" r="4.1"/><circle cx="2451.0" cy="1326.0" r="4.1"/><circle cx="2451.0" cy="1313.9" r="4.1"/><circle cx="2451.0" cy="1301.0" r="4.1"/><circle cx="2451.0" cy="1290.2" r="4.1"/><circle cx="2451.0" cy="1272.2" r="4.1"/><circle cx="2451.0" cy="1258.3" r="4.1"/><circle cx="2451.0" cy="1247.2" r="4.1"/><circle cx="2451.0" cy="1233.4" r="4.1"/><circle cx="2451.0" cy="1218.3" r="4.1"/><circle cx="2451.0" cy="1205.7" r="4.1"/><circle cx="2451.0" cy="1190.4" r="4.1"/><circle cx="2451.0" cy="1178.3" r="4.1"/><circle cx="2451.0" cy="1166.9" r="4.1"/><circle cx="2451.0" cy="1146.8" r="4.1"/><circle cx="2451.0" cy="1129.6" r="4.1"/><circle cx="2451.0" cy="1117.3" r="4.1"/><circle cx="2451.0" cy="1106.8" r="4.1"/><circle cx="2451.0" cy="894.9" r="4.1"/><circle cx="2451.0" cy="930.9" r="4.1"/><circle cx="2451.0" cy="943.9" r="4.1"/><circle cx="2451.0" cy="993.7" r="4.1"/><circle cx="2451.0" cy="1045.8" r="4.1"/><circle cx="2451.0" cy="1094.0" r="4.1"/></g>
<path d="M2576.4 1438.1V1128.7M2558.9 1128.7h35" stroke="#887c96" stroke-width="2.2" fill="none"/>
<rect x="2519.1" y="1438.1" width="114.7" height="209.9" fill="#4d3b62" stroke="#3c2e4c" stroke-width="1.6"/>
<path d="M2519.1 1504.9h114.7" stroke="#3c2e4c" stroke-width="2" fill="none" opacity="0.8"/>
<path d="M2571.9 1650.2h9" stroke="#3c2e4c" stroke-width="2.4" fill="none"/>
<g fill="none" stroke="#3c2e4c" stroke-width="1.2" opacity="0.55"><circle cx="2576.4" cy="1614.9" r="4.3"/><circle cx="2576.4" cy="1595.4" r="4.3"/><circle cx="2576.4" cy="1587.0" r="4.3"/><circle cx="2576.4" cy="1574.6" r="4.3"/><circle cx="2576.4" cy="1567.4" r="4.3"/><circle cx="2576.4" cy="1556.9" r="4.3"/><circle cx="2576.4" cy="1549.7" r="4.3"/><circle cx="2576.4" cy="1539.5" r="4.3"/><circle cx="2576.4" cy="1528.0" r="4.3"/><circle cx="2576.4" cy="1517.5" r="4.3"/><circle cx="2576.4" cy="1504.6" r="4.3"/><circle cx="2576.4" cy="1489.5" r="4.3"/><circle cx="2576.4" cy="1480.8" r="4.3"/><circle cx="2576.4" cy="1471.2" r="4.3"/><circle cx="2576.4" cy="1460.1" r="4.3"/><circle cx="2576.4" cy="1447.4" r="4.3"/></g>
<path d="M2570.4 1504.9l12 12M2582.4 1504.9l-12 12" stroke="#3c2e4c" stroke-width="1.6" fill="none" opacity="0.8"/>
<g fill="#47365a" clip-path="url(#plotclip)"><circle cx="2576.4" cy="1433.3" r="4.1"/><circle cx="2576.4" cy="1422.5" r="4.1"/><circle cx="2576.4" cy="1410.8" r="4.1"/><circle cx="2576.4" cy="1397.5" r="4.1"/><circle cx="2576.4" cy="1386.4" r="4.1"/><circle cx="2576.4" cy="1374.7" r="4.1"/><circle cx="2576.4" cy="1361.8" r="4.1"/><circle cx="2576.4" cy="1347.3" r="4.1"/><circle cx="2576.4" cy="1337.1" r="4.1"/><circle cx="2576.4" cy="1326.0" r="4.1"/><circle cx="2576.4" cy="1313.9" r="4.1"/><circle cx="2576.4" cy="1301.0" r="4.1"/><circle cx="2576.4" cy="1290.2" r="4.1"/><circle cx="2576.4" cy="1272.2" r="4.1"/><circle cx="2576.4" cy="1258.3" r="4.1"/><circle cx="2576.4" cy="1247.2" r="4.1"/><circle cx="2576.4" cy="1233.4" r="4.1"/><circle cx="2576.4" cy="1218.3" r="4.1"/><circle cx="2576.4" cy="1205.7" r="4.1"/><circle cx="2576.4" cy="1190.4" r="4.1"/><circle cx="2576.4" cy="1178.3" r="4.1"/><circle cx="2576.4" cy="1166.9" r="4.1"/><circle cx="2576.4" cy="1146.8" r="4.1"/><circle cx="2576.4" cy="1129.6" r="4.1"/><circle cx="2576.4" cy="894.9" r="4.1"/><circle cx="2576.4" cy="978.3" r="4.1"/><circle cx="2576.4" cy="993.7" r="4.1"/><circle cx="2576.4" cy="1045.8" r="4.1"/><circle cx="2576.4" cy="1089.4" r="4.1"/><circle cx="2576.4" cy="1100.9" r="4.1"/></g>
<path d="M2701.8 1438.1V1128.7M2684.2 1128.7h35" stroke="#6e9ba7" stroke-width="2.2" fill="none"/>
<rect x="2644.4" y="1438.1" width="114.7" height="209.9" fill="#276a7c" stroke="#1e5361" stroke-width="1.6"/>
<path d="M2644.4 1504.9h114.7" stroke="#1e5361" stroke-width="2" fill="none" opacity="0.8"/>
<path d="M2697.2 1650.2h9" stroke="#1e5361" stroke-width="2.4" fill="none"/>
<g fill="none" stroke="#1e5361" stroke-width="1.2" opacity="0.55"><circle cx="2701.8" cy="1614.9" r="4.3"/><circle cx="2701.8" cy="1595.4" r="4.3"/><circle cx="2701.8" cy="1587.0" r="4.3"/><circle cx="2701.8" cy="1574.6" r="4.3"/><circle cx="2701.8" cy="1567.4" r="4.3"/><circle cx="2701.8" cy="1556.9" r="4.3"/><circle cx="2701.8" cy="1549.7" r="4.3"/><circle cx="2701.8" cy="1539.5" r="4.3"/><circle cx="2701.8" cy="1528.0" r="4.3"/><circle cx="2701.8" cy="1517.5" r="4.3"/><circle cx="2701.8" cy="1504.6" r="4.3"/><circle cx="2701.8" cy="1489.5" r="4.3"/><circle cx="2701.8" cy="1480.8" r="4.3"/><circle cx="2701.8" cy="1471.2" r="4.3"/><circle cx="2701.8" cy="1460.1" r="4.3"/><circle cx="2701.8" cy="1447.4" r="4.3"/></g>
<path d="M2695.8 1504.9l12 12M2707.8 1504.9l-12 12" stroke="#1e5361" stroke-width="1.6" fill="none" opacity="0.8"/>
<g fill="#246272" clip-path="url(#plotclip)"><circle cx="2701.8" cy="1433.3" r="4.1"/><circle cx="2701.8" cy="1422.5" r="4.1"/><circle cx="2701.8" cy="1410.8" r="4.1"/><circle cx="2701.8" cy="1397.5" r="4.1"/><circle cx="2701.8" cy="1386.4" r="4.1"/><circle cx="2701.8" cy="1374.7" r="4.1"/><circle cx="2701.8" cy="1361.8" r="4.1"/><circle cx="2701.8" cy="1347.3" r="4.1"/><circle cx="2701.8" cy="1337.1" r="4.1"/><circle cx="2701.8" cy="1326.0" r="4.1"/><circle cx="2701.8" cy="1313.9" r="4.1"/><circle cx="2701.8" cy="1301.0" r="4.1"/><circle cx="2701.8" cy="1290.2" r="4.1"/><circle cx="2701.8" cy="1272.2" r="4.1"/><circle cx="2701.8" cy="1258.3" r="4.1"/><circle cx="2701.8" cy="1247.2" r="4.1"/><circle cx="2701.8" cy="1233.4" r="4.1"/><circle cx="2701.8" cy="1218.3" r="4.1"/><circle cx="2701.8" cy="1205.7" r="4.1"/><circle cx="2701.8" cy="1190.4" r="4.1"/><circle cx="2701.8" cy="1178.3" r="4.1"/><circle cx="2701.8" cy="1166.9" r="4.1"/><circle cx="2701.8" cy="1146.8" r="4.1"/><circle cx="2701.8" cy="1129.6" r="4.1"/><circle cx="2701.8" cy="894.9" r="4.1"/><circle cx="2701.8" cy="993.7" r="4.1"/><circle cx="2701.8" cy="1045.8" r="4.1"/><circle cx="2701.8" cy="1089.4" r="4.1"/><circle cx="2701.8" cy="1107.0" r="4.1"/></g>
<rect x="1430.5" y="1726.5" width="18.8" height="19.9" fill="#4f81bd"/>
<rect x="1545.9" y="1726.5" width="18.8" height="19.9" fill="#c0504d"/>
<rect x="1661.3" y="1726.5" width="18.8" height="19.9" fill="#9bbb59"/>
<rect x="1776.7" y="1726.5" width="18.8" height="19.9" fill="#8064a2"/>
<rect x="1892.1" y="1726.5" width="18.8" height="19.9" fill="#4bacc6"/>
<rect x="2007.5" y="1726.5" width="18.8" height="19.9" fill="#f79646"/>
<rect x="2122.9" y="1726.5" width="18.8" height="19.9" fill="#2c4d75"/>
<rect x="2238.3" y="1726.5" width="18.8" height="19.9" fill="#772c2a"/>
<rect x="2353.7" y="1726.5" width="18.8" height="19.9" fill="#5f7530"/>
<rect x="2469.1" y="1726.5" width="18.8" height="19.9" fill="#4d3b62"/>
<rect x="2584.5" y="1726.5" width="18.8" height="19.9" fill="#276a7c"/>
</svg>

<div class="t" style="left:904.0px;top:117.7px;font-size:106.64px;font-family:'Liberation Sans', sans-serif;color:#fff;transform:scale(1.0000,1.0400);transform-origin:0 84.67%;">Trends in Use of Rear Tip Extenders in Inflatable</div>
<div class="t" style="left:1437.8px;top:246.1px;font-size:106.67px;font-family:'Liberation Sans', sans-serif;color:#fff;transform:scale(1.0000,1.0400);transform-origin:0 84.67%;">Penile Prosthesis Surgery</div>
<div class="t" style="left:908.5px;top:394.0px;font-size:46.90px;font-family:'Liberation Sans', sans-serif;color:#fff;word-spacing:2.433px;transform:scale(1.0000,1.0400);transform-origin:0 84.67%;">Zhengran Jiang M.D. <sup class="s">1</sup>, , Luis Miranda M.D. <sup class="s">1</sup> Cassandra Lyons M.D.<sup class="s">1</sup>, David Charles M.D.<sup class="s">2</sup>, Ryan Smith M.D.<sup class="s">1</sup>, Mei Tuong M.D.<sup class="s">1</sup>,</div>
<div class="t" style="left:2061.8px;top:450.9px;font-size:47.19px;font-family:'Liberation Sans', sans-serif;color:#fff;transform:scale(1.0000,1.0400);transform-origin:0 84.67%;">Nicolas Ortiz M.D. <sup class="s">1</sup></div>
<div class="t" style="left:1399.0px;top:517.1px;font-size:36.50px;font-family:'Liberation Sans', sans-serif;color:#eeece1;font-style:italic;letter-spacing:0.639px;">1. University of Virginia School of <span style="font-size:110%">Medicine</span>, Charlottesville, VA 2. UVA Community Health, Culpeper VA</div>
<div class="t" style="left:85.0px;top:624.6px;font-size:64.21px;font-family:'Liberation Sans', sans-serif;color:#002060;font-weight:bold;transform:scale(1.0000,1.0400);transform-origin:0 84.67%;">Introduction</div>
<div class="t" style="left:84.0px;top:701.8px;font-size:49.00px;font-family:'Liberation Sans', sans-serif;color:#000;letter-spacing:0.800px;word-spacing:21.823px;-webkit-text-stroke:0.5px #000;">Utilized since the 1980’s, rear tip extenders</div>
<div class="t" style="left:84.0px;top:766.2px;font-size:49.00px;font-family:'Liberation Sans', sans-serif;color:#000;letter-spacing:0.800px;word-spacing:14.755px;-webkit-text-stroke:0.5px #000;">(RTE) help optimize sizing in inflatable penile</div>
<div class="t" style="left:84.0px;top:830.6px;font-size:49.00px;font-family:'Liberation Sans', sans-serif;color:#000;letter-spacing:0.800px;word-spacing:25.137px;-webkit-text-stroke:0.5px #000;">prosthesis (IPP) surgery. But recent articles</div>
<div class="t" style="left:84.0px;top:895.0px;font-size:49.00px;font-family:'Liberation Sans', sans-serif;color:#000;letter-spacing:0.800px;word-spacing:26.188px;-webkit-text-stroke:0.5px #000;">suggest comprised device axial rigidity with</div>
<div class="t" style="left:84.0px;top:959.4px;font-size:49.00px;font-family:'Liberation Sans', sans-serif;color:#000;letter-spacing:1.239px;-webkit-text-stroke:0.5px #000;">overuse.</div>
<div class="t" style="left:84.2px;top:1088.1px;font-size:63.84px;font-family:'Liberation Sans', sans-serif;color:#002060;font-weight:bold;transform:scale(1.0000,1.0400);transform-origin:0 84.67%;">Aim</div>
<div class="t" style="left:84.0px;top:1165.8px;font-size:49.00px;font-family:'Liberation Sans', sans-serif;color:#000;letter-spacing:0.800px;word-spacing:-0.262px;-webkit-text-stroke:0.5px #000;">This study evaluates trends in RTE use over time</div>
<div class="t" style="left:84.0px;top:1229.7px;font-size:49.00px;font-family:'Liberation Sans', sans-serif;color:#000;letter-spacing:0.800px;word-spacing:59.741px;-webkit-text-stroke:0.5px #000;">and the impact of surgical approach</div>
<div class="t" style="left:84.0px;top:1293.5px;font-size:49.00px;font-family:'Liberation Sans', sans-serif;color:#000;letter-spacing:1.032px;-webkit-text-stroke:0.5px #000;">(penoscrotal vs. infrapubic) on RTE utilization.</div>
<div class="t" style="left:84.9px;top:1418.9px;font-size:63.79px;font-family:'Liberation Sans', sans-serif;color:#002060;font-weight:bold;transform:scale(1.0000,1.0400);transform-origin:0 84.67%;">Methods</div>
<div class="t" style="left:84.0px;top:1509.2px;font-size:49.00px;font-family:'Liberation Sans', sans-serif;color:#000;letter-spacing:0.800px;word-spacing:7.320px;-webkit-text-stroke:0.5px #000;">We retrospectively analyzed a large IPP device</div>
<div class="t" style="left:84.0px;top:1573.1px;font-size:49.00px;font-family:'Liberation Sans', sans-serif;color:#000;letter-spacing:0.800px;word-spacing:33.284px;-webkit-text-stroke:0.5px #000;">database and assessed cylinder and RTE</div>
<div class="t" style="left:84.0px;top:1637.0px;font-size:49.00px;font-family:'Liberation Sans', sans-serif;color:#000;letter-spacing:0.813px;-webkit-text-stroke:0.5px #000;">lengths over the years.</div>
<div class="t" style="left:84.0px;top:1764.8px;font-size:49.00px;font-family:'Liberation Sans', sans-serif;color:#000;letter-spacing:0.800px;word-spacing:4.801px;-webkit-text-stroke:0.5px #000;">We then calculated the proportion of RTE to CL</div>
<div class="t" style="left:84.0px;top:1828.7px;font-size:49.00px;font-family:'Liberation Sans', sans-serif;color:#000;letter-spacing:0.800px;word-spacing:32.197px;-webkit-text-stroke:0.5px #000;">over time and compared RTE/CL between</div>
<div class="t" style="left:84.0px;top:1892.6px;font-size:49.00px;font-family:'Liberation Sans', sans-serif;color:#000;letter-spacing:0.800px;word-spacing:84.266px;-webkit-text-stroke:0.5px #000;">penoscrotal versus infrapubic surgical</div>
<div class="t" style="left:84.0px;top:1956.5px;font-size:49.00px;font-family:'Liberation Sans', sans-serif;color:#000;letter-spacing:2.091px;-webkit-text-stroke:0.5px #000;">approaches.</div>
<div class="t" style="left:84.0px;top:2084.3px;font-size:49.00px;font-family:'Liberation Sans', sans-serif;color:#000;letter-spacing:0.800px;word-spacing:3.183px;-webkit-text-stroke:0.5px #000;">Trends in RTE use were evaluated using t-tests,</div>
<div class="t" style="left:84.0px;top:2148.2px;font-size:49.00px;font-family:'Liberation Sans', sans-serif;color:#000;letter-spacing:1.095px;-webkit-text-stroke:0.5px #000;">linear regression, and logistic regression.</div>
<div class="t" style="left:2922.0px;top:624.4px;font-size:63.68px;font-family:'Liberation Sans', sans-serif;color:#002060;font-weight:bold;transform:scale(1.0000,1.0400);transform-origin:0 84.67%;">Results</div>
<div class="t" style="left:2922.0px;top:702.4px;font-size:49.00px;font-family:'Liberation Sans', sans-serif;color:#000;letter-spacing:0.800px;word-spacing:8.660px;-webkit-text-stroke:0.5px #000;">A total of 55,066 devices over the span of 10</div>
<div class="t" style="left:2922.0px;top:766.6px;font-size:49.00px;font-family:'Liberation Sans', sans-serif;color:#000;letter-spacing:1.004px;-webkit-text-stroke:0.5px #000;">years (2014-2024) were included.</div>
<div class="t" style="left:2922.0px;top:881.0px;font-size:49.00px;font-family:'Liberation Sans', sans-serif;color:#000;letter-spacing:0.800px;word-spacing:3.737px;-webkit-text-stroke:0.5px #000;">While median RTE length remained unchanged</div>
<div class="t" style="left:2922.0px;top:944.8px;font-size:49.00px;font-family:'Liberation Sans', sans-serif;color:#000;letter-spacing:0.800px;word-spacing:22.924px;-webkit-text-stroke:0.5px #000;">(1cm), the ratio of RTE to corporal length</div>
<div class="t" style="left:2922.0px;top:1008.6px;font-size:49.00px;font-family:'Liberation Sans', sans-serif;color:#000;letter-spacing:0.800px;word-spacing:5.416px;-webkit-text-stroke:0.5px #000;">declined from 5.26% in 2014 to 4.76% in 2024</div>
<div class="t" style="left:2922.0px;top:1072.4px;font-size:49.00px;font-family:'Liberation Sans', sans-serif;color:#000;letter-spacing:1.185px;-webkit-text-stroke:0.5px #000;">(p&lt;0.001).</div>
<div class="t" style="left:2922.0px;top:1188.0px;font-size:49.00px;font-family:'Liberation Sans', sans-serif;color:#000;letter-spacing:0.800px;word-spacing:10.568px;-webkit-text-stroke:0.5px #000;">Most devices (66.6%) of devices were placed</div>
<div class="t" style="left:2922.0px;top:1251.7px;font-size:49.00px;font-family:'Liberation Sans', sans-serif;color:#000;letter-spacing:0.800px;word-spacing:8.027px;-webkit-text-stroke:0.5px #000;">via a penoscrotal and 33.4% via an infrapubic</div>
<div class="t" style="left:2922.0px;top:1315.5px;font-size:49.00px;font-family:'Liberation Sans', sans-serif;color:#000;letter-spacing:2.183px;-webkit-text-stroke:0.5px #000;">approach.</div>
<div class="t" style="left:2922.0px;top:1430.7px;font-size:49.00px;font-family:'Liberation Sans', sans-serif;color:#000;letter-spacing:0.800px;word-spacing:15.634px;-webkit-text-stroke:0.5px #000;">RTE use was more often in the penoscrotal</div>
<div class="t" style="left:2922.0px;top:1494.8px;font-size:49.00px;font-family:'Liberation Sans', sans-serif;color:#000;letter-spacing:0.800px;word-spacing:1.493px;-webkit-text-stroke:0.5px #000;">group (68.6% vs. 63.6%, p&lt;0.001), along with a</div>
<div class="t" style="left:2922.0px;top:1558.5px;font-size:49.00px;font-family:'Liberation Sans', sans-serif;color:#000;letter-spacing:0.176px;-webkit-text-stroke:0.5px #000;">greater RTE to CL ratio (5% vs. 4%, p&lt;0.001).</div>
<div class="t" style="left:2913.2px;top:1705.5px;font-size:63.92px;font-family:'Liberation Sans', sans-serif;color:#002060;font-weight:bold;transform:scale(1.0000,1.0400);transform-origin:0 84.67%;">Conclusion</div>
<div class="t" style="left:2912.0px;top:1795.6px;font-size:49.00px;font-family:'Liberation Sans', sans-serif;color:#000;letter-spacing:0.800px;word-spacing:-2.650px;-webkit-text-stroke:0.5px #000;">RTE length in IPP surgery has slightly decreased</div>
<div class="t" style="left:2912.0px;top:1860.2px;font-size:49.00px;font-family:'Liberation Sans', sans-serif;color:#000;letter-spacing:0.800px;word-spacing:35.169px;-webkit-text-stroke:0.5px #000;">over the past decade, possibly reflecting</div>
<div class="t" style="left:2912.0px;top:1924.9px;font-size:49.00px;font-family:'Liberation Sans', sans-serif;color:#000;letter-spacing:1.327px;-webkit-text-stroke:0.5px #000;">efforts to maximize rigidity.</div>
<div class="t" style="left:2912.0px;top:2053.8px;font-size:49.00px;font-family:'Liberation Sans', sans-serif;color:#000;letter-spacing:0.800px;word-spacing:16.331px;-webkit-text-stroke:0.5px #000;">The penoscrotal approach is associated with</div>
<div class="t" style="left:2912.0px;top:2118.4px;font-size:49.00px;font-family:'Liberation Sans', sans-serif;color:#000;letter-spacing:0.800px;word-spacing:2.339px;-webkit-text-stroke:0.5px #000;">greater RTE utilization, which is likely related to</div>
<div class="t" style="left:2912.0px;top:2182.0px;font-size:49.00px;font-family:'Liberation Sans', sans-serif;color:#000;letter-spacing:1.846px;-webkit-text-stroke:0.5px #000;">scrotal pump positioning.</div>
<div class="t" style="left:1510.0px;top:2023.2px;font-size:47.69px;font-family:'Liberation Sans', sans-serif;color:#002060;font-weight:bold;transform:scale(1.0000,1.0400);transform-origin:0 84.67%;">Disclosures</div>
<div class="t" style="left:1510.0px;top:2107.8px;font-size:38.50px;font-family:'Liberation Sans', sans-serif;color:#000;letter-spacing:1.073px;-webkit-text-stroke:0.5px #000;">This study was funded by an investigator-initiated grant</div>
<div class="t" style="left:1510.0px;top:2159.0px;font-size:38.50px;font-family:'Liberation Sans', sans-serif;color:#000;letter-spacing:1.899px;-webkit-text-stroke:0.5px #000;">from Coloplast</div>
<div class="t" style="left:310.0px;top:133.5px;font-size:41.50px;font-family:'Liberation Sans', sans-serif;color:#fff;font-weight:bold;transform:scale(1.0026,1.0000);transform-origin:0 84.67%;-webkit-text-stroke:0.9px #fff;">TH</div>
<div class="t" style="left:388.0px;top:164.8px;font-size:59.60px;font-family:'Liberation Sans', sans-serif;color:#fff;font-weight:bold;transform:scale(0.9296,1.0000);transform-origin:0 84.67%;-webkit-text-stroke:0.9px #fff;">Annual Fall</div>
<div class="t" style="left:388.0px;top:233.1px;font-size:59.60px;font-family:'Liberation Sans', sans-serif;color:#fff;font-weight:bold;transform:scale(0.9443,1.0000);transform-origin:0 84.67%;-webkit-text-stroke:0.9px #fff;">Scientific Meeting</div>
<div class="t" style="left:387.0px;top:303.3px;font-size:58.50px;font-family:'Liberation Sans', sans-serif;color:#fff;transform:scale(0.9558,1.0000);transform-origin:0 84.67%;">of SMSNA</div>
<div class="t" style="left:389.5px;top:393.4px;font-size:43.20px;font-family:'Liberation Sans', sans-serif;color:#fff;font-weight:bold;transform:scale(1.0428,1.0000);transform-origin:0 84.67%;-webkit-text-stroke:0.9px #fff;">October 9-12, 2025</div>
<div class="t" style="left:389.5px;top:444.4px;font-size:43.20px;font-family:'Liberation Sans', sans-serif;color:#fff;font-weight:bold;transform:scale(0.9928,1.0000);transform-origin:0 84.67%;-webkit-text-stroke:0.9px #fff;">Grapevine, TX, USA</div>
<div class="t" style="left:3460.1px;top:175.7px;font-size:122.70px;font-family:'Liberation Serif', serif;color:#fff;font-weight:bold;transform:scale(0.9175,1.0000);transform-origin:0 83.74%;">U</div>
<div class="t" style="left:3536.8px;top:175.7px;font-size:122.70px;font-family:'Liberation Serif', serif;color:#fff;font-weight:bold;transform:scale(1.0202,1.0000);transform-origin:0 83.74%;">V</div>
<div class="t" style="left:3600.4px;top:175.7px;font-size:122.70px;font-family:'Liberation Serif', serif;color:#fff;font-weight:bold;transform:scale(1.0146,1.0000);transform-origin:0 83.74%;">A</div>
<div class="t" style="left:3692.0px;top:186.4px;font-size:108.20px;font-family:'Liberation Sans', sans-serif;color:#f4834a;font-weight:bold;transform:scale(0.8181,1.0000);transform-origin:0 84.67%;-webkit-text-stroke:4px #f4834a;">Hea</div>
<div class="t" style="left:3858.2px;top:186.4px;font-size:108.20px;font-family:'Liberation Sans', sans-serif;color:#f4834a;font-weight:bold;transform:scale(0.8889,0.9460);transform-origin:0 84.67%;-webkit-text-stroke:4px #f4834a;">lth</div>
<div class="t" style="left:3660.4px;top:193.4px;font-size:17.90px;font-family:'Liberation Sans', sans-serif;color:#fff;">®</div>
<div class="t" style="left:1829.5px;top:839.4px;font-size:29.00px;font-family:'Liberation Sans', sans-serif;color:#595959;transform:scale(1.0706,1.0000);transform-origin:0 84.67%;filter:blur(0.9px);-webkit-text-stroke:0.7px #595959;">RTE/Corporal Length Over Time</div>
<div class="t" style="left:1301.0px;top:885.7px;font-size:21.50px;font-family:'Liberation Sans', sans-serif;color:#595959;transform:scale(0.9354,1.0000);transform-origin:0 84.67%;filter:blur(0.6px);">0.25</div>
<div class="t" style="left:1312.8px;top:1036.0px;font-size:21.50px;font-family:'Liberation Sans', sans-serif;color:#595959;transform:scale(0.9487,1.0000);transform-origin:0 84.67%;filter:blur(0.6px);">0.2</div>
<div class="t" style="left:1301.0px;top:1186.4px;font-size:21.50px;font-family:'Liberation Sans', sans-serif;color:#595959;transform:scale(0.9354,1.0000);transform-origin:0 84.67%;filter:blur(0.6px);">0.15</div>
<div class="t" style="left:1312.8px;top:1336.7px;font-size:21.50px;font-family:'Liberation Sans', sans-serif;color:#595959;transform:scale(0.9487,1.0000);transform-origin:0 84.67%;filter:blur(0.6px);">0.1</div>
<div class="t" style="left:1301.0px;top:1487.1px;font-size:21.50px;font-family:'Liberation Sans', sans-serif;color:#595959;transform:scale(0.9354,1.0000);transform-origin:0 84.67%;filter:blur(0.6px);">0.05</div>
<div class="t" style="left:1330.3px;top:1637.4px;font-size:21.50px;font-family:'Liberation Sans', sans-serif;color:#595959;transform:scale(0.8236,1.0000);transform-origin:0 84.67%;filter:blur(0.6px);">0</div>
<div class="t" style="left:2074.5px;top:1670.6px;font-size:17.00px;font-family:'Liberation Sans', sans-serif;color:#595959;filter:blur(0.6px);">1</div>
<div class="t" style="left:1458.3px;top:1720.8px;font-size:32.70px;font-family:'Liberation Sans', sans-serif;color:#5a5a5a;transform:scale(0.9293,1.0000);transform-origin:0 84.67%;filter:blur(0.8px);-webkit-text-stroke:0.5px #5a5a5a;">2014</div>
<div class="t" style="left:1573.7px;top:1720.8px;font-size:32.70px;font-family:'Liberation Sans', sans-serif;color:#5a5a5a;transform:scale(0.9431,1.0000);transform-origin:0 84.67%;filter:blur(0.8px);-webkit-text-stroke:0.5px #5a5a5a;">2015</div>
<div class="t" style="left:1689.1px;top:1720.8px;font-size:32.70px;font-family:'Liberation Sans', sans-serif;color:#5a5a5a;transform:scale(0.9431,1.0000);transform-origin:0 84.67%;filter:blur(0.8px);-webkit-text-stroke:0.5px #5a5a5a;">2016</div>
<div class="t" style="left:1804.5px;top:1720.8px;font-size:32.70px;font-family:'Liberation Sans', sans-serif;color:#5a5a5a;transform:scale(0.9431,1.0000);transform-origin:0 84.67%;filter:blur(0.8px);-webkit-text-stroke:0.5px #5a5a5a;">2017</div>
<div class="t" style="left:1919.9px;top:1720.8px;font-size:32.70px;font-family:'Liberation Sans', sans-serif;color:#5a5a5a;transform:scale(0.9431,1.0000);transform-origin:0 84.67%;filter:blur(0.8px);-webkit-text-stroke:0.5px #5a5a5a;">2018</div>
<div class="t" style="left:2035.3px;top:1720.8px;font-size:32.70px;font-family:'Liberation Sans', sans-serif;color:#5a5a5a;transform:scale(0.9431,1.0000);transform-origin:0 84.67%;filter:blur(0.8px);-webkit-text-stroke:0.5px #5a5a5a;">2019</div>
<div class="t" style="left:2150.7px;top:1720.8px;font-size:32.70px;font-family:'Liberation Sans', sans-serif;color:#5a5a5a;transform:scale(0.9431,1.0000);transform-origin:0 84.67%;filter:blur(0.8px);-webkit-text-stroke:0.5px #5a5a5a;">2020</div>
<div class="t" style="left:2266.1px;top:1720.8px;font-size:32.70px;font-family:'Liberation Sans', sans-serif;color:#5a5a5a;transform:scale(0.9431,1.0000);transform-origin:0 84.67%;filter:blur(0.8px);-webkit-text-stroke:0.5px #5a5a5a;">2021</div>
<div class="t" style="left:2381.5px;top:1720.8px;font-size:32.70px;font-family:'Liberation Sans', sans-serif;color:#5a5a5a;transform:scale(0.9431,1.0000);transform-origin:0 84.67%;filter:blur(0.8px);-webkit-text-stroke:0.5px #5a5a5a;">2022</div>
<div class="t" style="left:2496.9px;top:1720.8px;font-size:32.70px;font-family:'Liberation Sans', sans-serif;color:#5a5a5a;transform:scale(0.9431,1.0000);transform-origin:0 84.67%;filter:blur(0.8px);-webkit-text-stroke:0.5px #5a5a5a;">2023</div>
<div class="t" style="left:2612.3px;top:1720.8px;font-size:32.70px;font-family:'Liberation Sans', sans-serif;color:#5a5a5a;transform:scale(0.9293,1.0000);transform-origin:0 84.67%;filter:blur(0.8px);-webkit-text-stroke:0.5px #5a5a5a;">2024</div>

</div>
</body>
</html>
